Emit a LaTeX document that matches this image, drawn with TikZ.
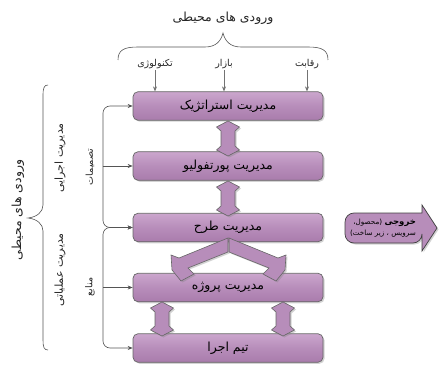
\documentclass[tikz,border=0pt]{standalone}
\usepackage{fontspec}
\setmainfont{DejaVu Sans}
\newfontfamily\fa[Script=Arabic]{DejaVu Sans}
\TeXXeTstate=1
\usetikzlibrary{arrows.meta,shadows}
\definecolor{pfill}{HTML}{B78DBA}
\definecolor{ptop}{HTML}{CBA6CD}
\definecolor{pbot}{HTML}{A97CAC}
\definecolor{pedge}{HTML}{666666}
\definecolor{lcol}{HTML}{555555}
\newcommand{\rtl}[1]{\beginR #1\endR}
\newcommand{\dblarrow}[3]{\path[darr] (#1,#2) -- (#1+11.5,#2+6) -- (#1+7,#2+10) -- (#1+7,#3-10) -- (#1+11.5,#3-6) -- (#1,#3) -- (#1-11.5,#3-6) -- (#1-7,#3-10) -- (#1-7,#2+10) -- (#1-11.5,#2+6) -- cycle;}
\begin{document}
\begin{tikzpicture}[x=1pt,y=-1pt,
  boxst/.style={draw=pedge, line width=0.7pt, rounded corners=5pt, top color=ptop, bottom color=pbot, middle color=pfill,
    minimum width=190pt, minimum height=28.5pt, inner sep=0pt,
    drop shadow={opacity=0.35, shadow xshift=1.5pt, shadow yshift=-1.5pt},
    font=\fa\fontsize{12.5}{14}\selectfont},
  darr/.style={draw=pedge, line width=0.6pt, fill=pfill,
    drop shadow={opacity=0.35, shadow xshift=1.5pt, shadow yshift=-1.5pt}},
  conn/.style={draw=lcol, line width=0.6pt, -{Stealth[length=5pt,width=4pt]}},
  lbl/.style={font=\fa\fontsize{9.5}{11}\selectfont, text=black!85, inner sep=1pt},
  ttl/.style={font=\fa\fontsize{12.5}{14}\selectfont, text=black!85, inner sep=1pt},
  side/.style={font=\fa\fontsize{11}{12}\selectfont, text=black!85, inner sep=1pt, rotate=90},
]
\useasboundingbox (0,0) rectangle (441,382);

% boxes
\node[boxst] (b1) at (228,106) {\rtl{مدیریت استراتژیک}};
\node[boxst] (b2) at (228,166) {\rtl{مدیریت پورتفولیو}};
\node[boxst] (b3) at (228,227.5) {\rtl{مدیریت طرح}};
\node[boxst] (b4) at (228,287.5) {\rtl{مدیریت پروژه}};
\node[boxst] (b5) at (228,348) {\rtl{تیم اجرا}};

% split arrow over box3 / box4
\path[darr] (229,238) -- (278,258) -- (286,255) -- (285,270) -- (276,281) -- (263,274) -- (269,268) -- (229,252) -- cycle;
\path[darr] (228,238) -- (179,258) -- (171,255) -- (172,270) -- (181,281) -- (194,274) -- (188,268) -- (228,252) -- cycle;

% double arrows
\dblarrow{228}{121}{156}
\dblarrow{228}{181}{216}
\dblarrow{162}{302}{336}
\dblarrow{283}{302}{336}

% top title and brace
\node[ttl] (title) at (223,18) {\rtl{ورودی های محیطی}};
\draw[lcol, line width=0.6pt] (118,60) .. controls (118,50) and (124,47) .. (138,47) -- (205,47) .. controls (216,47) and (221,41) .. (223,33) .. controls (225,41) and (230,47) .. (241,47) -- (308,47) .. controls (322,47) and (328,50) .. (328,60);

% top labels and arrows
\node[lbl] (tk) at (155,64) {\rtl{تکنولوژی}};
\node[lbl] (bz) at (224,64) {\rtl{بازار}};
\node[lbl] (rq) at (307,64) {\rtl{رقابت}};
\draw[conn, draw=black!55] (tk.south) -- (tk.south |- b1.north);
\draw[conn, draw=black!55] (bz.south) -- (bz.south |- b1.north);
\draw[conn, draw=black!55] (rq.south) -- (rq.south |- b1.north);

% left brace and texts
\draw[lcol, line width=0.6pt] (48,85) .. controls (44,85) and (43,88) .. (43,96) -- (43,205) .. controls (43,212) and (37,217) .. (28,218) .. controls (37,219) and (43,224) .. (43,231) -- (43,340) .. controls (43,347) and (44,350) .. (48,350);
\node[side, font=\fa\fontsize{12.5}{14}\selectfont] (env) at (18,210) {\rtl{ورودی های محیطی}};
\node[side] (ejr) at (60,158) {\rtl{مدیریت اجرایی}};
\node[side] (aml) at (60,270) {\rtl{مدیریت عملیاتی}};
\node[side, font=\fa\fontsize{9.5}{11}\selectfont] (tsm) at (90,167) {\rtl{تصمیمات}};
\node[side, font=\fa\fontsize{9.5}{11}\selectfont] (mnb) at (90,287) {\rtl{منابع}};

% left connectors
\coordinate (L1) at (103,166);
\coordinate (L2) at (103,287.5);
\draw[conn, rounded corners=7pt] (L1) |- (b1.west);
\draw[conn] (L1) -- (b2.west);
\draw[conn, rounded corners=7pt] (L1) |- (b3.west);
\draw[conn, rounded corners=7pt] (L2) |- (b3.west);
\draw[conn] (L2) -- (b4.west);
\draw[conn, rounded corners=7pt] (L2) |- (b5.west);

% output arrow
\path[draw=black!75, line width=0.7pt, fill=pfill, drop shadow={opacity=0.35, shadow xshift=1.5pt, shadow yshift=-1.5pt}]
  (422,243) -- (422,251) -- (437,228) -- (422,205) -- (422,213) [rounded corners=9pt] -- (345,213) -- (345,243) -- (422,243) [sharp corners] -- cycle;
\node[align=right, inner sep=0pt] (out) at (383,228) {\fa\fontsize{7.2}{10}\selectfont\rtl{{\fontsize{8.5}{10}\selectfont\bfseries خروجی} (محصول،}\\[-1pt]
  \fa\fontsize{7.2}{9}\selectfont\rtl{سرویس ، زیر ساخت)}};
\end{tikzpicture}
\end{document}
